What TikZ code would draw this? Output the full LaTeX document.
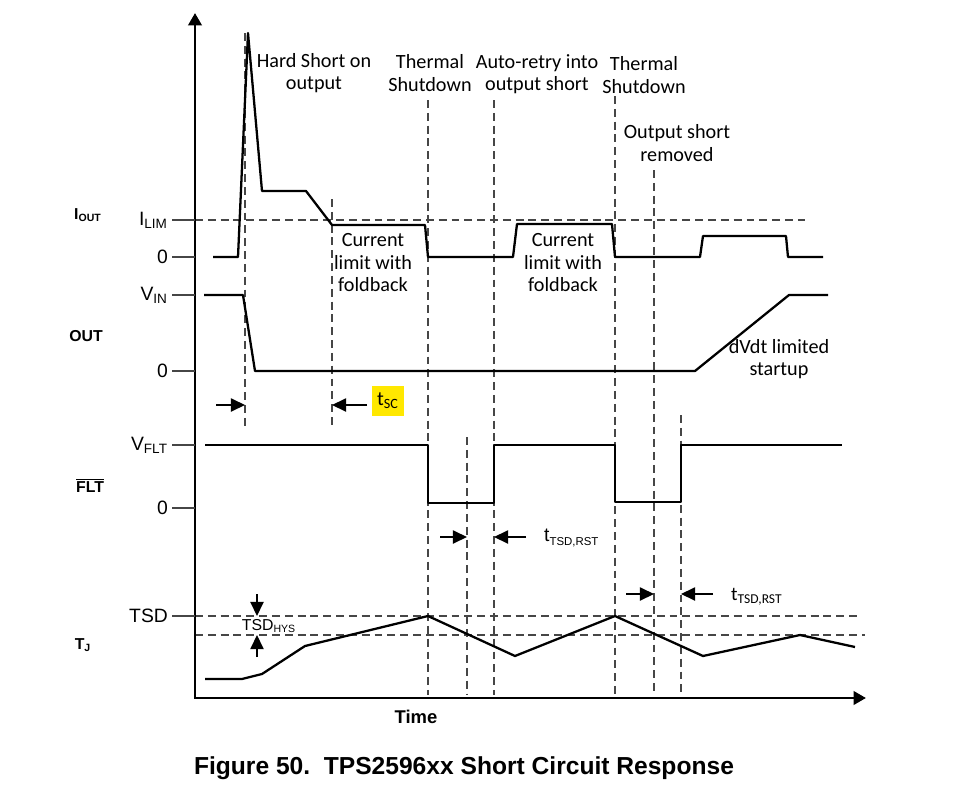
\documentclass[tikz,border=0pt]{standalone}
\usepackage{fontspec}
\setmainfont{Liberation Sans}
\newfontfamily\calibri{Carlito}
\usetikzlibrary{arrows.meta}
\definecolor{guidegray}{RGB}{70,70,70}
\definecolor{hilite}{RGB}{255,232,0}

\begin{document}
\begin{tikzpicture}[x=0.02cm, y=-0.02cm,
    wave/.style={line width=1.3pt, line join=round},
    guide/.style={guidegray, line width=0.75pt, dash pattern=on 4.5pt off 2.8pt},
    tick/.style={guidegray, line width=0.75pt},
    axis/.style={line width=1.7pt, line join=miter, >={Triangle[length=7pt,width=7.5pt]}, <->},
    dim/.style={line width=0.8pt, -{Triangle[length=8pt,width=7.5pt]}},
    note/.style={font=\calibri\fontsize{11.5}{12.8}\selectfont, align=center},
    lvl/.style={font=\fontsize{11}{13}\selectfont, anchor=east, inner sep=1pt},
    sig/.style={font=\bfseries\fontsize{9}{11}\selectfont}
]
    \useasboundingbox (0,0) rectangle (958,798);

    % guides
    \draw[guide] (195,220) -- (805,220);
    \draw[guide] (195,616) -- (858,616);
    \draw[guide] (195,635) -- (865,635);
    \draw[guide] (245,33) -- (245,428);
    \draw[guide] (332,199) -- (332,428);
    \draw[guide] (428,100) -- (428,695);
    \draw[guide] (467,437) -- (467,695);
    \draw[guide] (494,100) -- (494,695);
    \draw[guide] (615,96) -- (615,695);
    \draw[guide] (654,170) -- (654,695);
    \draw[guide] (681,415) -- (681,695);

    % axes
    \draw[axis] (195,13) -- (195,698) -- (866,698);

    % levels
    \foreach \y/\lbl in {220/I\textsubscript{LIM}, 257/0, 295/V\textsubscript{IN},
        371/0, 445/V\textsubscript{FLT}, 508/0, 616/TSD} {
        \draw[tick] (172,\y) -- (195,\y);
        \node[lvl] (lvl-\y) at (170,\y) {\lbl};
    }

    \node[sig] (iout) at (88,215) {I\textsubscript{OUT}};
    \node[sig] (out) at (86,336) {OUT};
    \node[sig] (flt) at (90,485) {$\overline{\hbox{FLT}}$};
    \node[sig] (tj) at (83,645) {T\textsubscript{J}};

    % waveforms
    \draw[wave] (213,257) -- (238,257) -- (248,33) -- (262,191) -- (306,191)
        -- (332,225) -- (425,225) -- (428,257) -- (513,257) -- (517,224)
        -- (612,224) -- (615,257) -- (700,257) -- (703,236) -- (786,236)
        -- (788,257) -- (823,257);
    \draw[wave] (204,295) -- (243,295) -- (255,371) -- (695,371) -- (789,295)
        -- (828,295);
    \draw[wave] (205,445) -- (428,445) -- (428,503) -- (494,503) -- (494,445)
        -- (615,445) -- (615,502) -- (681,502) -- (681,445) -- (842,445);
    \draw[wave] (205,679) -- (242,679) -- (262,674) -- (305,646) -- (428,616)
        -- (515,656) -- (615,616) -- (703,656) -- (800,635) -- (855,647);

    % annotations
    \node[note] (hardshort) at (314,73) {Hard Short on\\output};
    \node[note] (tsd1) at (430,73) {Thermal\\Shutdown};
    \node[note] (retry) at (537,74) {Auto-retry into\\output short};
    \node[note] (tsd2) at (644,75) {Thermal\\Shutdown};
    \node[note] (removed) at (677,143) {Output short\\removed};
    \node[note] (clim1) at (373,263) {Current\\limit with\\foldback};
    \node[note] (clim2) at (563,263) {Current\\limit with\\foldback};
    \node[note] (dvdt) at (779,359) {dVdt limited\\startup};

    % timing marks
    \draw[dim] (216,405) -- (245,405);
    \draw[dim] (367,405) -- (332,405);
    \node[font=\calibri\fontsize{11.5}{12}\selectfont, fill=hilite, inner sep=0pt,
        minimum width=18pt, minimum height=17pt] (tsc) at (388,401) {t\textsubscript{SC}};

    \draw[dim] (440,537) -- (467,537);
    \draw[dim] (526,537) -- (494,537);
    \node[anchor=west, font=\fontsize{11}{13}\selectfont] (trst1) at (538,538)
        {t\raisebox{-0.35ex}{\fontsize{6.5}{8}\selectfont TSD,RST}};

    \draw[dim] (626,594) -- (654,594);
    \draw[dim] (713,594) -- (681,594);
    \node[anchor=west, font=\calibri\fontsize{11}{13}\selectfont] (trst2) at (725,597) {t\textsubscript{TSD,RST}};

    \draw[dim] (257,594) -- (257,616);
    \draw[dim] (257,657) -- (257,635);
    \node[font=\fontsize{9}{11}\selectfont, inner sep=1pt] (tsdhys) at (269,626) {TSD\textsubscript{HYS}};

    \node[font=\bfseries\fontsize{10.5}{12}\selectfont] (time) at (416,717) {Time};
    \node[font=\bfseries\fontsize{14}{16}\selectfont] (caption) at (464,768)
        {Figure 50.\ \ TPS2596xx Short Circuit Response};
\end{tikzpicture}
\end{document}
